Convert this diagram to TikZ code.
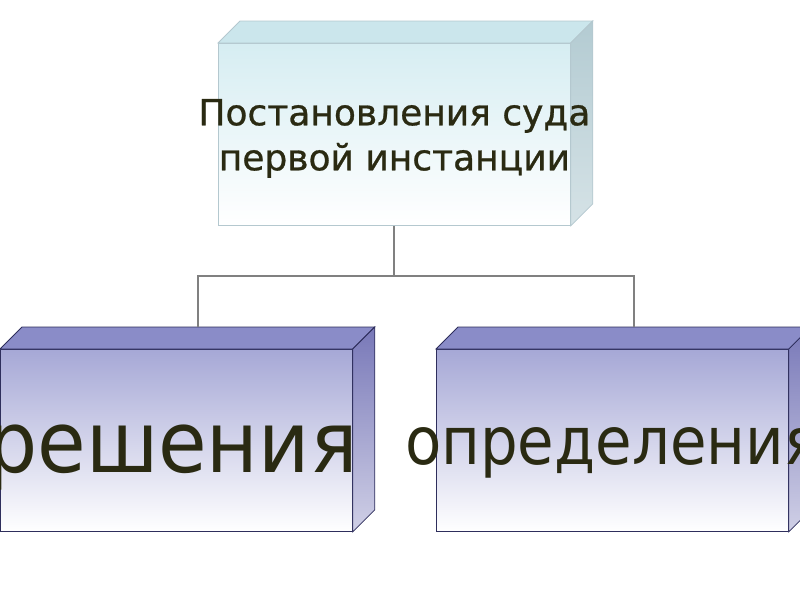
\documentclass[tikz,border=0pt]{standalone}
\usepackage{fontspec}
\setmainfont{DejaVu Sans}
\newfontfamily\heavysans[FakeBold=0.8]{DejaVu Sans}
\definecolor{inkolive}{HTML}{2A2A12}
\definecolor{iceface}{HTML}{D6EDF2}
\definecolor{icetop}{HTML}{CBE6EC}
\definecolor{iceside}{HTML}{B3CBD2}
\definecolor{iceedge}{HTML}{B4C8CF}
\definecolor{lavface}{HTML}{A6A8D6}
\definecolor{lavtop}{HTML}{8A8CC8}
\definecolor{lavside}{HTML}{7878B8}
\definecolor{lavedge}{HTML}{2E2E5C}
\tikzset{
  front/.style={rectangle, inner sep=0pt, anchor=north west,
    minimum width=352pt, minimum height=182pt},
  icebox/.style={front, draw=iceedge, line width=0.8pt,
    top color=iceface, middle color=iceface!70!white, bottom color=white},
  lavbox/.style={front, draw=lavedge, line width=0.8pt,
    top color=lavface, middle color=lavface!85!white, bottom color=white},
  link/.style={draw=gray, line width=2pt},
  caption/.style={text=inkolive, align=center, inner sep=0pt}
}
\begin{document}
\begin{tikzpicture}[x=1pt,y=-1pt]
                \useasboundingbox (0,0) rectangle (800,600);
                % upper box
                \node[icebox] (court) at (218,43) {};
                \fill[icetop, draw=iceedge, line width=0.8pt] (court.north west) -- ++(22,-22)
                    -- ([shift={(22,-22)}]court.north east) -- (court.north east) -- cycle;
                \shade[top color=iceside, bottom color=iceside!55!white, draw=iceedge, line width=0.8pt]
                    (court.north east) -- ++(22,-22) -- ([shift={(22,-22)}]court.south east)
                    -- (court.south east) -- cycle;
                \node[caption, font=\heavysans\fontsize{36}{45}\selectfont] (courttext)
                    at ([shift={(0,4)}]court.center) {Постановления суда\\первой инстанции};
                % lower boxes
                \node[lavbox] (decision) at (0,349) {};
                \node[lavbox] (ruling) at (436,349) {};
                \foreach \b in {decision,ruling} {
                    \fill[lavtop, draw=lavedge, line width=0.8pt] (\b.north west) -- ++(22,-22)
                        -- ([shift={(22,-22)}]\b.north east) -- (\b.north east) -- cycle;
                    \shade[top color=lavside, bottom color=lavside!35!white, draw=lavedge, line width=0.8pt]
                        (\b.north east) -- ++(22,-22) -- ([shift={(22,-22)}]\b.south east)
                        -- (\b.south east) -- cycle;
                }
                \node[caption, anchor=base, font=\fontsize{85}{96}\selectfont] (decisiontext)
                    at ([shift={(-4,32)}]decision.center) {\scalebox{0.93}[1]{решения}};
                \node[caption, anchor=base, font=\fontsize{66}{76}\selectfont] (rulingtext)
                    at ([shift={(0,24)}]ruling.center) {\scalebox{0.9}[1]{определения}};
                % connectors
                \coordinate (decisionback) at ([shift={(22,-22)}]decision.north);
                \coordinate (rulingback) at ([shift={(22,-22)}]ruling.north);
                \draw[link] (court.south) -- ++(0,50) coordinate (fork);
                \draw[link] (fork) -| (decisionback);
                \draw[link] (fork) -| (rulingback);
            \end{tikzpicture}
\end{document}
